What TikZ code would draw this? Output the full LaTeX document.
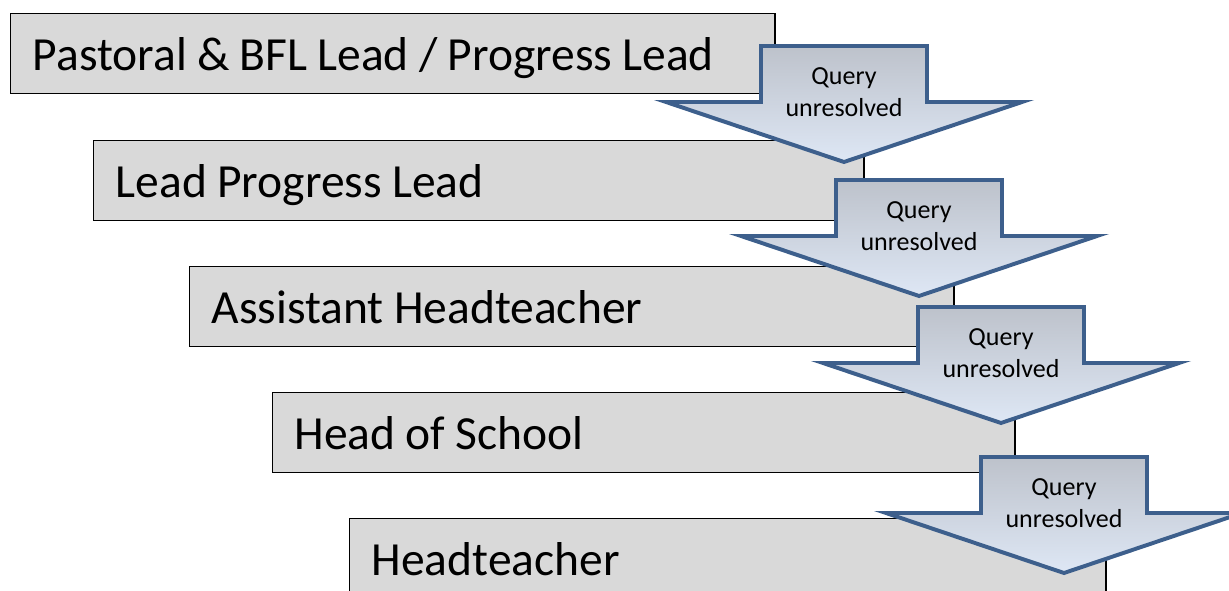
\documentclass[tikz,border=0pt]{standalone}
\usepackage{fontspec}
\setmainfont{Carlito}
\usepackage{tikz}
\usetikzlibrary{calc,positioning}
\definecolor{boxgray}{HTML}{D9D9D9}
\definecolor{arrowblue}{HTML}{3D5F8C}
\definecolor{shadetop}{HTML}{BDC2CB}
\definecolor{shademid}{HTML}{C4D4EC}
\definecolor{shadebot}{HTML}{DEE7F5}
\newcommand\DrawQueryArrow[3]{% name, centre x, top y
  \path[queryarrow] (#2-83,#3) -- (#2+83,#3) -- (#2+83,#3+56) -- (#2+178,#3+56)
    -- (#2,#3+116) -- (#2-178,#3+56) -- (#2-83,#3+56) -- cycle;
  \node[querytext] (#1) at (#2,#3+46) {Query\\unresolved};
}
\tikzset{%
  rolebox/.style={draw=black, line width=1pt, fill=boxgray, anchor=north west,
    minimum height=2cm, inner xsep=0.55cm, inner ysep=0pt, align=left,
    text height=24pt, text depth=0pt, font=\fontsize{33.8}{38}\selectfont,
    execute at begin node={\spaceskip=0.215em\relax}},
  queryarrow/.style={draw=arrowblue, line width=2.8pt, top color=shadetop,
    middle color=shademid, bottom color=shadebot},
  querytext/.style={align=center, inner sep=0pt, font=\fontsize{18.5}{22.8}\selectfont}
}

\begin{document}
\begin{tikzpicture}[x=0.025cm, y=-0.025cm] % one unit = one pixel
  \useasboundingbox (0,0) rectangle (1229,591);

  % the five levels
  \node[rolebox, text width=18cm] (pastoral) at (10,13) {Pastoral \& BFL Lead / Progress Lead};
  \node[rolebox, text width=18.15cm] (leadprog) at (93,140) {Lead Progress Lead};
  \node[rolebox, text width=18cm] (assistant) at (189,266) {Assistant Headteacher};
  \node[rolebox, text width=17.45cm] (headschool) at (272,392) {Head of School};
  \node[rolebox, text width=17.8cm] (headteacher) at (349,518) {Headteacher};

  % the arrows between them
  \DrawQueryArrow{q1}{844}{46}
  \DrawQueryArrow{q2}{919}{180}
  \DrawQueryArrow{q3}{1001}{307}
  \DrawQueryArrow{q4}{1064}{457}
\end{tikzpicture}
\end{document}
